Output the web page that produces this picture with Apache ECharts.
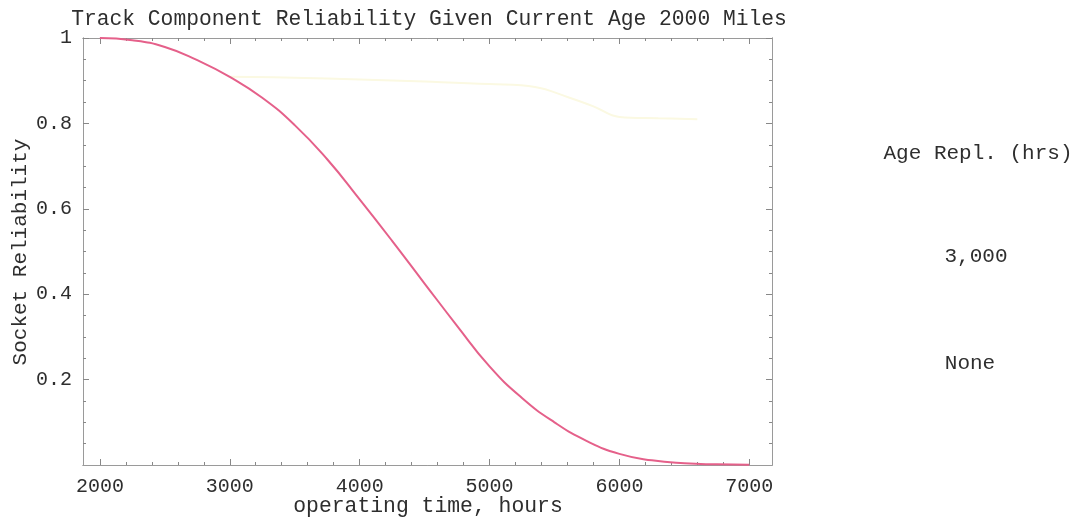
<!DOCTYPE html>
<html>
<head>
<meta charset="utf-8">
<title>Track Component Reliability</title>
<script src="https://cdn.jsdelivr.net/npm/echarts@6/dist/echarts.min.js"></script>
<style>
  html, body { margin: 0; padding: 0; background: #fff; }
  #chart { width: 1077px; height: 517px; }
</style>
</head>
<body>
<div id="chart"></div>
<script>
// Operating time (hours) and socket reliability with no age replacement
const hours = [2000, 2250, 2500, 2750, 3000, 3250, 3500, 3750, 4000, 4250, 4500,
               4750, 5000, 5250, 5500, 5750, 6000, 6250, 6500, 6750, 7000];
const reliabilityNone = [1.000, 0.995, 0.979, 0.948, 0.909, 0.860, 0.796, 0.716, 0.622, 0.525, 0.425,
                         0.326, 0.231, 0.157, 0.100, 0.056, 0.026, 0.011, 0.004, 0.0015, 0.0005];

// Reliability with age replacement at 3,000 hours (faint curve)
const hoursAgeRepl = [3000, 3500, 4000, 4500, 5000, 5350, 5600, 5800, 6000, 6300, 6600];
const reliabilityAgeRepl = [0.909, 0.907, 0.903, 0.898, 0.892, 0.885, 0.862, 0.840, 0.815, 0.812, 0.810];

// Axis ticks
const xMajorTicks = [2000, 3000, 4000, 5000, 6000, 7000];
const xMinorTicks = [2000, 2200, 2400, 2600, 2800, 3000, 3200, 3400, 3600, 3800, 4000, 4200, 4400,
                     4600, 4800, 5000, 5200, 5400, 5600, 5800, 6000, 6200, 6400, 6600, 6800, 7000];
const yMajorTicks = [0.2, 0.4, 0.6, 0.8, 1];
const yMinorTicks = [0.05, 0.1, 0.15, 0.2, 0.25, 0.3, 0.35, 0.4, 0.45, 0.5, 0.55, 0.6, 0.65,
                     0.7, 0.75, 0.8, 0.85, 0.9, 0.95, 1];

// Legend entries
const legendTitle = 'Age Repl. (hrs)';
const legendItems = ['3,000', 'None'];

const FONT = '"Liberation Mono", "DejaVu Sans Mono", monospace';
const TEXT = '#2e2e2e';
const FRAME = '#9a9a9a';

const X_MIN = 1870, X_MAX = 7175;

function pairs(xs, ys) { return xs.map((x, i) => [x, ys[i]]); }

function xAxisDef(position, ticks, len, labels) {
  return {
    type: 'value', position: position, min: X_MIN, max: X_MAX,
    axisLine: { show: true, onZero: false, lineStyle: { color: FRAME, width: 1 } },
    axisTick: { show: true, inside: true, length: len, customValues: ticks,
                lineStyle: { color: '#888', width: 1 } },
    axisLabel: labels ? { show: true, customValues: xMajorTicks, color: TEXT,
                          fontFamily: FONT, fontSize: 20, margin: 12,
                          formatter: v => String(v) } : { show: false },
    splitLine: { show: false }
  };
}
function yAxisDef(position, ticks, len, labels) {
  return {
    type: 'value', position: position, min: 0, max: 1,
    axisLine: { show: true, onZero: false, lineStyle: { color: FRAME, width: 1 } },
    axisTick: { show: true, inside: true, length: len, customValues: ticks,
                lineStyle: { color: '#888', width: 1 } },
    axisLabel: labels ? { show: true, customValues: yMajorTicks, color: TEXT,
                          fontFamily: FONT, fontSize: 20, margin: 11,
                          formatter: v => String(Math.round(v * 10) / 10) } : { show: false },
    splitLine: { show: false }
  };
}

const LABEL_FONT = '21px ' + FONT;

const chart = echarts.init(document.getElementById('chart'));
chart.setOption({
  backgroundColor: '#ffffff',
  animation: false,
  title: {
    text: 'Track Component Reliability Given Current Age 2000 Miles',
    left: 424, top: 4, textAlign: 'center',
    textStyle: { fontFamily: FONT, fontSize: 21.3, fontWeight: 'normal', color: TEXT }
  },
  grid: { left: 83, right: 305, top: 38, bottom: 52 },
  xAxis: [
    xAxisDef('bottom', xMajorTicks, 6, true),
    xAxisDef('bottom', xMinorTicks, 3, false),
    xAxisDef('top', xMajorTicks, 6, false),
    xAxisDef('top', xMinorTicks, 3, false)
  ],
  yAxis: [
    yAxisDef('left', yMajorTicks, 6, true),
    yAxisDef('left', yMinorTicks, 3, false),
    yAxisDef('right', yMajorTicks, 6, false),
    yAxisDef('right', yMinorTicks, 3, false)
  ],
  series: [
    {
      name: legendItems[0], type: 'line', smooth: 0.4, showSymbol: false,
      data: pairs(hoursAgeRepl, reliabilityAgeRepl),
      lineStyle: { color: '#fbf9e2', width: 2 }, z: 2
    },
    {
      name: legendItems[1], type: 'line', smooth: 0.5, showSymbol: false,
      data: pairs(hours, reliabilityNone),
      lineStyle: { color: '#e5608a', width: 2 }, z: 3
    }
  ],
  graphic: [
    { type: 'text', x: 428, y: 506, style: { text: 'operating time, hours',
      align: 'center', verticalAlign: 'middle', fill: TEXT, font: '21.4px ' + FONT } },
    { type: 'text', x: 20, y: 252, rotation: Math.PI / 2, style: { text: 'Socket Reliability',
      align: 'center', verticalAlign: 'middle', fill: TEXT, font: LABEL_FONT } },
    { type: 'text', x: 978, y: 153, style: { text: legendTitle,
      align: 'center', verticalAlign: 'middle', fill: TEXT, font: LABEL_FONT } },
    { type: 'text', x: 976, y: 256, style: { text: legendItems[0],
      align: 'center', verticalAlign: 'middle', fill: TEXT, font: LABEL_FONT } },
    { type: 'text', x: 970, y: 363, style: { text: legendItems[1],
      align: 'center', verticalAlign: 'middle', fill: TEXT, font: LABEL_FONT } }
  ]
});
</script>
</body>
</html>
